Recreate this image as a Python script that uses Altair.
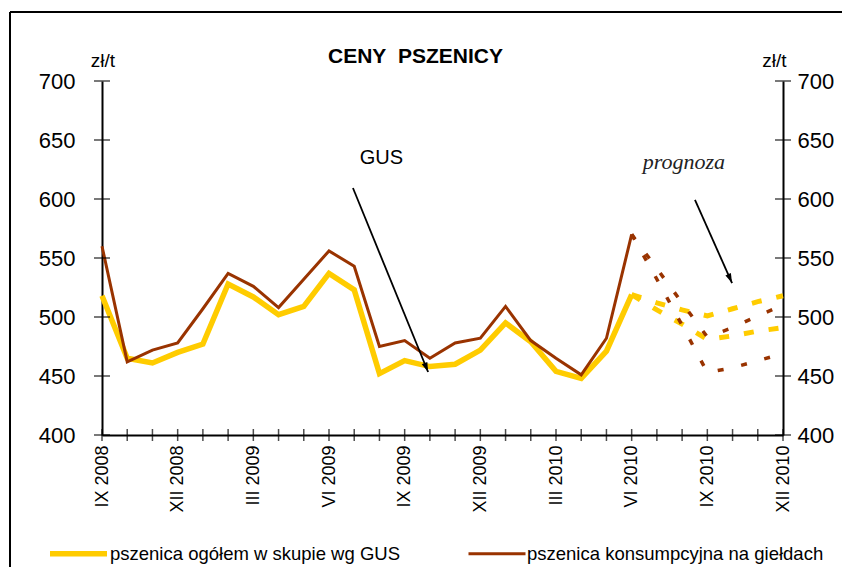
import json
import altair as alt
import pandas as pd

# ---------------- data ----------------
months = ["IX 2008", "X 2008", "XI 2008", "XII 2008",
          "I 2009", "II 2009", "III 2009", "IV 2009", "V 2009", "VI 2009",
          "VII 2009", "VIII 2009", "IX 2009", "X 2009", "XI 2009", "XII 2009",
          "I 2010", "II 2010", "III 2010", "IV 2010", "V 2010", "VI 2010",
          "VII 2010", "VIII 2010", "IX 2010", "X 2010", "XI 2010", "XII 2010"]
x_label_idx = [0, 3, 6, 9, 12, 15, 18, 21, 24, 27]
y_ticks = [400, 450, 500, 550, 600, 650, 700]

series_names = ["pszenica ogółem w skupie wg GUS", "pszenica konsumpcyjna na giełdach"]

gus = [518, 465, 461, 470, 477, 528, 517, 502, 509, 537, 523, 452, 463, 458,
       460, 472, 495, 479, 454, 448, 471, 519]
gielda = [560, 462, 472, 478, 507, 537, 526, 508, 532, 556, 543, 475, 480, 465,
          478, 482, 509, 480, 465, 451, 482, 570]

prog_start = 21
gus_prog_hi = [519, 512, 506, 501, 507, 513, 518]
gus_prog_lo = [519, 506, 494, 481, 484, 488, 491]
gielda_prog_hi = [570, 541, 512, 483, 491, 501, 510]
gielda_prog_lo = [570, 532, 493, 453, 457, 463, 469]

# ---------------- style ----------------
YEL = "#FFCC00"
BRN = "#993300"
FONT = "Liberation Sans"
PLOT_W, PLOT_H = 681, 354

hist_gus = pd.DataFrame({"idx": list(range(len(gus))), "value": gus, "series": series_names[0]})
hist_gie = pd.DataFrame({"idx": list(range(len(gielda))), "value": gielda, "series": series_names[1]})


def prog_df(values, name):
    return pd.DataFrame({"idx": [prog_start + i for i in range(len(values))],
                         "value": values, "line": name})


prog_yel = pd.concat([prog_df(gus_prog_hi, "hi"), prog_df(gus_prog_lo, "lo")])
prog_brn = pd.concat([prog_df(gielda_prog_hi, "hi"), prog_df(gielda_prog_lo, "lo")])

xs = alt.Scale(domain=[0, len(months) - 1], nice=False, zero=False)
ys = alt.Scale(domain=[400, 700], nice=False, zero=False)

x_axis = alt.Axis(values=x_label_idx, labelExpr=json.dumps(months) + "[datum.value]",
                  labelAngle=270, labelAlign="right", labelBaseline="middle",
                  labelFontSize=18, labelPadding=10, labelFlush=False, labelOverlap=False,
                  ticks=False, tickSize=0, grid=False, title=None,
                  domainColor="black", domainWidth=2, labelColor="black")

y_common = dict(values=y_ticks, labelFontSize=22, ticks=False, tickSize=0, grid=False,
                title="zł/t", titleAngle=0, titleAlign="center", titleBaseline="middle",
                titleFontSize=19, titleFontWeight="normal", titleColor="black",
                labelColor="black", domainColor="black", domainWidth=2)
y_left = alt.Axis(orient="left", labelPadding=27, titleX=0.5, titleY=-21, **y_common)
y_right = alt.Axis(orient="right", labelPadding=14, titleX=-9, titleY=-21, **y_common)

legend = alt.Legend(orient="none", legendX=-55, legendY=441, direction="horizontal",
                    title=None, symbolType="stroke", symbolSize=3249,
                    labelFontSize=18.5, labelColor="black", labelOffset=0,
                    columnPadding=62, labelLimit=500)
color_enc = alt.Color("series:N", scale=alt.Scale(domain=series_names, range=[YEL, BRN]),
                      legend=legend)
sw_enc = alt.StrokeWidth("series:N", scale=alt.Scale(type="ordinal", domain=series_names,
                                                     range=[5.5, 3]),
                         legend=legend)

one = pd.DataFrame({"k": [0]})

frame_left = alt.Chart(one).mark_rule(color="black", strokeWidth=2).encode(
    x=alt.value(-92), y=alt.value(-69), y2=alt.value(700))
frame_top = alt.Chart(one).mark_rule(color="black", strokeWidth=2).encode(
    x=alt.value(-92), x2=alt.value(900), y=alt.value(-69))

yel_line = alt.Chart(hist_gus).mark_line().encode(
    x=alt.X("idx:Q", scale=xs, axis=x_axis),
    y=alt.Y("value:Q", scale=ys, axis=y_left),
    color=color_enc, strokeWidth=sw_enc)

yel_prog = alt.Chart(prog_yel).mark_line(color=YEL, strokeWidth=5, strokeDash=[10, 15]).encode(
    x=alt.X("idx:Q", scale=xs, axis=None),
    y=alt.Y("value:Q", scale=ys, axis=None),
    detail="line:N")

brn_line = alt.Chart(hist_gie).mark_line().encode(
    x=alt.X("idx:Q", scale=xs, axis=None),
    y=alt.Y("value:Q", scale=ys, axis=y_right),
    color=color_enc, strokeWidth=sw_enc)

brn_prog = alt.Chart(prog_brn).mark_line(color=BRN, strokeWidth=3.5, strokeDash=[6, 18]).encode(
    x=alt.X("idx:Q", scale=xs, axis=None),
    y=alt.Y("value:Q", scale=ys, axis=None),
    detail="line:N")

ytick_df = pd.DataFrame({"v": y_ticks})
xtick_df = pd.DataFrame({"i": list(range(len(months)))})
ltick = alt.Chart(ytick_df).mark_tick(orient="horizontal", size=16, thickness=1.5,
                                      color="black").encode(
    y=alt.Y("v:Q", scale=ys, axis=None), x=alt.value(0))
rtick = alt.Chart(ytick_df).mark_tick(orient="horizontal", size=16, thickness=1.5,
                                      color="black").encode(
    y=alt.Y("v:Q", scale=ys, axis=None), x=alt.value(PLOT_W))
btick = alt.Chart(xtick_df).mark_tick(orient="vertical", size=12, thickness=1.5,
                                      color="black").encode(
    x=alt.X("i:Q", scale=xs, axis=None), y=alt.value(PLOT_H))

# annotations (positions in data units)
title_df = pd.DataFrame({"idx": [12.43], "value": [720.3], "t": ["CENY\u00a0 PSZENICY"]})
gus_df = pd.DataFrame({"idx": [11.08], "value": [634.7], "t": ["GUS"]})
prog_txt_df = pd.DataFrame({"idx": [23.07], "value": [631.0], "t": ["prognoza"]})
arrows_df = pd.DataFrame({"x1": [9.95, 23.51], "y1": [609.3, 599.2],
                          "x2": [12.93, 24.98], "y2": [453.4, 528.8],
                          "ang": [338, 336]})


def text_layer(df, **kw):
    return alt.Chart(df).mark_text(align="center", baseline="middle", **kw).encode(
        x=alt.X("idx:Q", scale=xs, axis=None),
        y=alt.Y("value:Q", scale=ys, axis=None),
        text="t:N")


title_t = text_layer(title_df, fontSize=21, fontWeight="bold", color="black", font=FONT)
gus_t = text_layer(gus_df, fontSize=20, color="black", font=FONT)
prog_t = text_layer(prog_txt_df, fontSize=22, fontStyle="italic", color="#222222",
                    font="Liberation Serif")

arrow_lines = alt.Chart(arrows_df).mark_rule(color="black", strokeWidth=1.8).encode(
    x=alt.X("x1:Q", scale=xs, axis=None), x2="x2:Q",
    y=alt.Y("y1:Q", scale=ys, axis=None), y2="y2:Q")
head_path = "M0,0L-0.5,-1.6L0.5,-1.6Z"
arrow_heads = alt.Chart(arrows_df).mark_point(shape=head_path, filled=True, size=144,
                                              color="black", opacity=1).encode(
    x=alt.X("x2:Q", scale=xs, axis=None),
    y=alt.Y("y2:Q", scale=ys, axis=None),
    angle=alt.Angle("ang:Q", scale=None))

chart = alt.layer(
    frame_left, frame_top,
    yel_line, yel_prog, brn_line, brn_prog,
    ltick, rtick, btick,
    title_t, gus_t, prog_t, arrow_lines, arrow_heads,
).resolve_axis(x="independent", y="independent").properties(
    width=PLOT_W, height=PLOT_H,
    padding={"left": 94, "top": 73, "right": 59, "bottom": 132},
    autosize=alt.AutoSizeParams(type="none"),
    background="white",
).configure_view(stroke=None).configure_axis(
    labelFont=FONT, titleFont=FONT
).configure_legend(labelFont=FONT)

chart.save("out.html", embed_options={"renderer": "svg", "actions": False})
